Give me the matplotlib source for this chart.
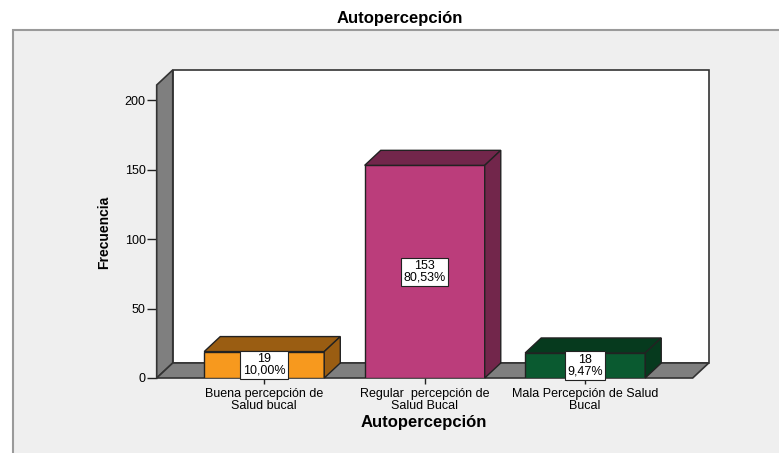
import matplotlib
matplotlib.use("Agg")
import matplotlib.pyplot as plt
from matplotlib.patches import Polygon, Rectangle

plt.rcParams['font.family'] = ['Liberation Sans', 'DejaVu Sans']

categories = ["Buena percepción de\nSalud bucal",
              "Regular  percepción de\nSalud Bucal",
              "Mala Percepción de Salud\nBucal"]
counts = [19, 153, 18]
percents = ["10,00%", "80,53%", "9,47%"]
front_colors = ["#F7991E", "#BB3D7B", "#0A5A30"]
shade_colors = ["#9A5D12", "#72264B", "#063A1E"]
yticks = [0, 50, 100, 150, 200]

W, H = 779, 453
fig = plt.figure(figsize=(W / 100, H / 100), dpi=100)
fig.patch.set_facecolor("white")

# grey panel behind the chart
fig.add_artist(Rectangle((13 / W, -0.05), 1.2, (453 - 30) / H + 0.05,
                         transform=fig.transFigure, facecolor="#EFEFEF",
                         edgecolor="#9A9A9A", lw=1.5, zorder=0))

ax = fig.add_axes([156.7 / W, 75 / H, 536 / W, 293 / H])
ax.set_facecolor("none")
xl, xr = -0.67, 2.67
ytop = 210.8
dx, dy = 0.1, 10.8
ax.set_xlim(xl, xr)
ax.set_ylim(0, ytop)
for s in ax.spines.values():
    s.set_visible(False)

edge = "#333333"
# back wall, left wall, floor
ax.add_patch(Polygon([(xl + dx, dy), (xr + dx, dy), (xr + dx, ytop + dy), (xl + dx, ytop + dy)],
                     closed=True, facecolor="white", edgecolor=edge, lw=1.2, clip_on=False, zorder=1))
ax.add_patch(Polygon([(xl, 0), (xl + dx, dy), (xl + dx, ytop + dy), (xl, ytop)],
                     closed=True, facecolor="#7F7F7F", edgecolor=edge, lw=1.2, clip_on=False, zorder=2))
ax.add_patch(Polygon([(xl, 0), (xr, 0), (xr + dx, dy), (xl + dx, dy)],
                     closed=True, facecolor="#7F7F7F", edgecolor=edge, lw=1.2, clip_on=False, zorder=2))

width = 0.748
x = list(range(len(counts)))
bars = ax.bar(x, counts, width=width, color=front_colors, edgecolor="#222222",
              lw=1.0, zorder=4)
for b, c, sh, p in zip(bars, counts, shade_colors, percents):
    x0 = b.get_x()
    x1 = x0 + b.get_width()
    ax.add_patch(Polygon([(x0, c), (x1, c), (x1 + dx, c + dy), (x0 + dx, c + dy)],
                         closed=True, facecolor=sh, edgecolor="#222222", lw=1.0, zorder=4, clip_on=False))
    ax.add_patch(Polygon([(x1, 0), (x1 + dx, dy), (x1 + dx, c + dy), (x1, c)],
                         closed=True, facecolor=sh, edgecolor="#222222", lw=1.0, zorder=4, clip_on=False))
    ax.text(b.get_x() + b.get_width() / 2, c / 2, f"{c}\n{p}", ha="center", va="center",
            fontsize=9, linespacing=0.9, zorder=6,
            bbox=dict(boxstyle="square,pad=0.2", facecolor="white", edgecolor="#222222", lw=0.8))

ax.set_yticks(yticks)
ax.set_yticklabels([str(t) for t in yticks], fontsize=9)
ax.tick_params(axis="y", length=7, width=1, color="#222222", pad=1)
ax.set_xticks(x)
ax.set_xticklabels(categories, fontsize=9, linespacing=1.05)
ax.tick_params(axis="x", length=4, width=1, color="#222222", pad=3)

fig.text(104 / W, 1 - 232 / H, "Frecuencia", rotation=90, ha="center", va="center",
         fontsize=10, fontweight="bold")
fig.text(424 / W, 1 - 423 / H, "Autopercepción", ha="center", va="center",
         fontsize=12, fontweight="bold")
fig.text(400 / W, 1 - 18 / H, "Autopercepción", ha="center", va="center",
         fontsize=12, fontweight="bold")

fig.savefig("out.png", dpi=100)
